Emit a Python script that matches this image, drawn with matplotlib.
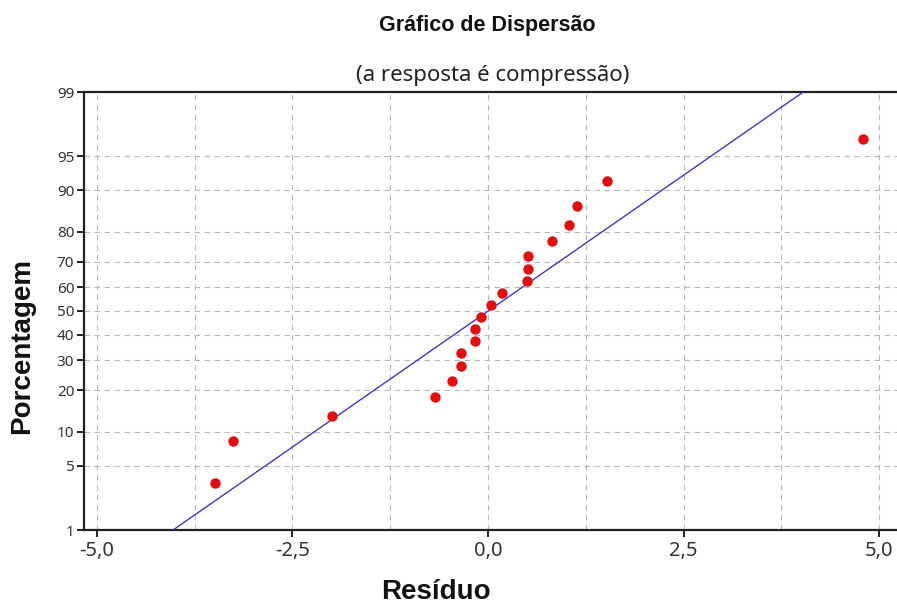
import math
import numpy as np
import matplotlib
matplotlib.use("Agg")
import matplotlib.pyplot as plt
from matplotlib.ticker import FixedLocator, FuncFormatter, NullFormatter

# ---- data ----
residuos = [-3.49, -3.26, -2.00, -0.68, -0.46, -0.35, -0.35, -0.17, -0.17, -0.09,
            0.04, 0.18, 0.50, 0.51, 0.51, 0.82, 1.04, 1.14, 1.52, 4.80]
percentagens = [3.4, 8.3, 13.2, 18.1, 23.0, 27.9, 32.8, 37.7, 42.6, 47.5,
                52.5, 57.4, 62.3, 67.2, 72.1, 77.0, 81.9, 86.8, 91.7, 96.6]
y_ticks = [1, 5, 10, 20, 30, 40, 50, 60, 70, 80, 90, 95, 99]
x_ticks = [-5.0, -2.5, 0.0, 2.5, 5.0]
x_minor = [-3.75, -1.25, 1.25, 3.75]
titulo = "Gráfico de Dispersão"
subtitulo = "(a resposta é compressão)"
xlabel = "Resíduo"
ylabel = "Porcentagem"


# ---- normal probability scale ----
_a = [-3.969683028665376e+01, 2.209460984245205e+02, -2.759285104469687e+02,
      1.383577518672690e+02, -3.066479806614716e+01, 2.506628277459239e+00]
_b = [-5.447609879822406e+01, 1.615858368580409e+02, -1.556989798598866e+02,
      6.680131188771972e+01, -1.328068155288572e+01]
_c = [-7.784894002430293e-03, -3.223964580411365e-01, -2.400758277161838e+00,
      -2.549732539343734e+00, 4.374664141464968e+00, 2.938163982698783e+00]
_d = [7.784695709041462e-03, 3.224671290700398e-01, 2.445134137142996e+00,
      3.754408661907416e+00]


def ppf(pct):
    p = np.clip(np.asarray(pct, dtype=float) / 100.0, 1e-9, 1 - 1e-9)
    plow = 0.02425
    with np.errstate(all="ignore"):
        q = p - 0.5
        r = q * q
        central = (((((_a[0]*r+_a[1])*r+_a[2])*r+_a[3])*r+_a[4])*r+_a[5])*q / \
                  (((((_b[0]*r+_b[1])*r+_b[2])*r+_b[3])*r+_b[4])*r+1)
        ql = np.sqrt(-2*np.log(p))
        low = (((((_c[0]*ql+_c[1])*ql+_c[2])*ql+_c[3])*ql+_c[4])*ql+_c[5]) / \
              ((((_d[0]*ql+_d[1])*ql+_d[2])*ql+_d[3])*ql+1)
        qu = np.sqrt(-2*np.log(1-p))
        up = -(((((_c[0]*qu+_c[1])*qu+_c[2])*qu+_c[3])*qu+_c[4])*qu+_c[5]) / \
             ((((_d[0]*qu+_d[1])*qu+_d[2])*qu+_d[3])*qu+1)
    return np.where(p < plow, low, np.where(p > 1 - plow, up, central))


_erf = np.vectorize(math.erf)


def cdf(z):
    z = np.asarray(z, dtype=float)
    return 100.0 * 0.5 * (1 + _erf(z / math.sqrt(2)))


# ---- figure ----
fig = plt.figure(figsize=(8.97, 6.05), dpi=100)
ax = fig.add_axes([84/897, 75/605, 1 - 84/897, 438/605])
ax.set_yscale("function", functions=(ppf, cdf))

mu = float(np.mean(residuos))
sigma = float(np.std(residuos, ddof=1))
line_p = np.array([1.0, 99.0])
line_x = mu + sigma * ppf(line_p)
ax.plot(line_x, line_p, color="#3a3ac8", lw=1.0, zorder=3)

ax.plot(residuos, percentagens, "o", color="#e01010", markersize=7.5,
        markeredgewidth=0, zorder=4)

ax.set_xlim(-5.166, 5.23)
ax.set_ylim(1, 99)

ax.yaxis.set_major_locator(FixedLocator(y_ticks))
ax.yaxis.set_major_formatter(FuncFormatter(lambda v, _: f"{v:g}"))
ax.yaxis.set_minor_locator(FixedLocator([]))
ax.yaxis.set_minor_formatter(NullFormatter())
ax.xaxis.set_major_locator(FixedLocator(x_ticks))
ax.xaxis.set_minor_locator(FixedLocator(x_minor))
ax.xaxis.set_major_formatter(FuncFormatter(lambda v, _: f"{v:.1f}".replace(".", ",")))

ax.grid(True, which="major", axis="both", color="#b8b8b8", linestyle=(0, (5, 4)), lw=0.8)
ax.grid(True, which="minor", axis="x", color="#b8b8b8", linestyle=(0, (5, 4)), lw=0.8)
ax.set_axisbelow(True)

for s in ["left", "bottom", "top"]:
    ax.spines[s].set_linewidth(1.6)
    ax.spines[s].set_color("#222222")
ax.spines["right"].set_visible(False)

ax.tick_params(axis="both", which="major", direction="out", length=5, width=1.4,
               color="#222222", labelcolor="#333333")
ax.tick_params(axis="x", which="major", pad=3, labelsize=14.5)
ax.tick_params(axis="y", which="major", pad=2, labelsize=11)
ax.tick_params(axis="x", which="minor", length=0)
for lab in ax.get_xticklabels() + ax.get_yticklabels():
    lab.set_fontfamily("Noto Sans")

fig.text(487/897, 1 - 25/605, titulo, ha="center", va="center",
         fontsize=15.5, fontweight="bold", family="Liberation Sans", color="#111111")
fig.text(493/897, 1 - 76/605, subtitulo, ha="center", va="center",
         fontsize=16, family="Noto Sans", color="#222222")
fig.text(436/897, 1 - 592/605, xlabel, ha="center", va="center",
         fontsize=20, fontweight="bold", family="Liberation Sans", color="#111111")
fig.text(22/897, 1 - 346/605, ylabel, ha="center", va="center", rotation=90,
         fontsize=20, fontweight="bold", family="Liberation Sans", color="#111111")

fig.savefig("out.png", dpi=100)
